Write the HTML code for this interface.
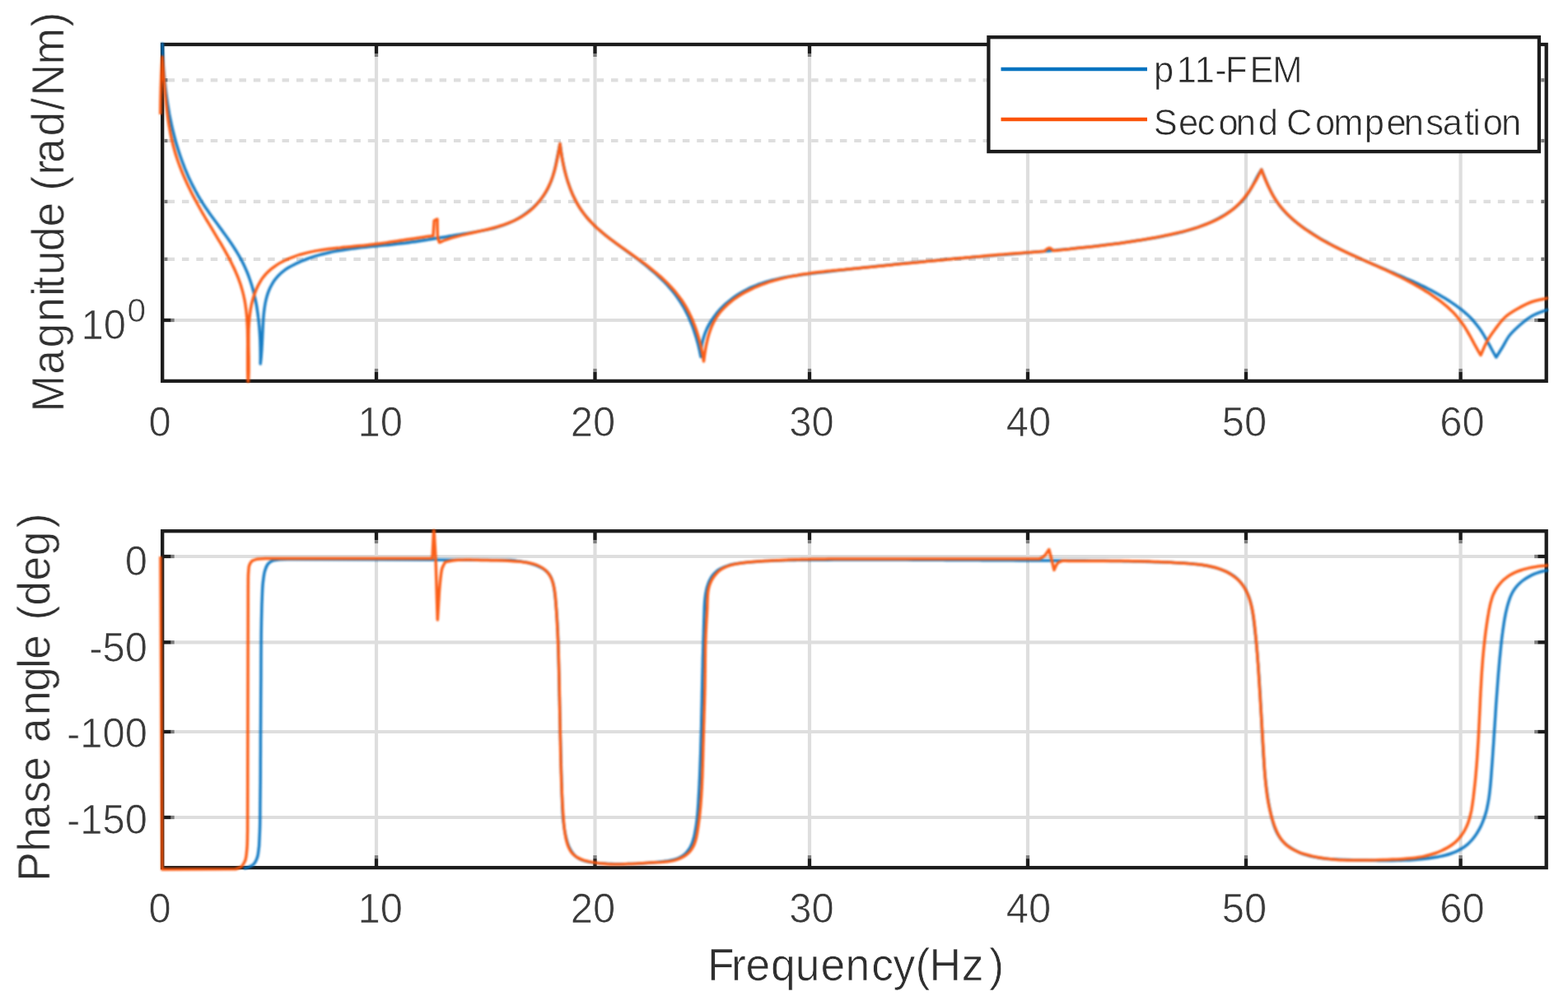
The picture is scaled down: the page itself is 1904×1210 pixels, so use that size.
<!DOCTYPE html>
<html lang="en">
<head>
<meta charset="utf-8">
<title>Frequency response: p11-FEM vs Second Compensation</title>
<style>
html,body{margin:0;padding:0;background:#fff;}
body{width:1904px;height:1210px;overflow:hidden;}
svg{display:block;}
text{font-family:"Liberation Sans","DejaVu Sans",sans-serif;stroke:#ffffff;stroke-width:0.7px;paint-order:fill stroke;}
</style>
</head>
<body>
<svg width="1904" height="1210" viewBox="0 0 1904 1210">
<rect x="0" y="0" width="1904" height="1210" fill="#ffffff"/>
<defs>
<clipPath id="ct"><rect x="190" y="51.8" width="1690" height="413.3"/></clipPath>
<clipPath id="cb"><rect x="190" y="643" width="1690" height="418"/></clipPath>
<filter id="soft" x="0" y="0" width="1904" height="1210" filterUnits="userSpaceOnUse" color-interpolation-filters="sRGB"><feGaussianBlur stdDeviation="0.9"/></filter>
<filter id="softt" x="0" y="0" width="1904" height="1210" filterUnits="userSpaceOnUse" color-interpolation-filters="sRGB"><feGaussianBlur stdDeviation="0.7"/></filter>
</defs>
<g stroke="#dedede" stroke-width="4.2" fill="none">
<line x1="457.0" y1="54.0" x2="457.0" y2="462.9"/>
<line x1="457.0" y1="645.2" x2="457.0" y2="1054.1"/>
<line x1="722.5" y1="54.0" x2="722.5" y2="462.9"/>
<line x1="722.5" y1="645.2" x2="722.5" y2="1054.1"/>
<line x1="983.0" y1="54.0" x2="983.0" y2="462.9"/>
<line x1="983.0" y1="645.2" x2="983.0" y2="1054.1"/>
<line x1="1248.0" y1="54.0" x2="1248.0" y2="462.9"/>
<line x1="1248.0" y1="645.2" x2="1248.0" y2="1054.1"/>
<line x1="1513.0" y1="54.0" x2="1513.0" y2="462.9"/>
<line x1="1513.0" y1="645.2" x2="1513.0" y2="1054.1"/>
<line x1="1773.6" y1="54.0" x2="1773.6" y2="462.9"/>
<line x1="1773.6" y1="645.2" x2="1773.6" y2="1054.1"/>
<line x1="197.2" y1="389" x2="1877.7" y2="389"/>
<line x1="203.6" y1="97.3" x2="1877.7" y2="97.3" stroke-dasharray="8.5 8.868"/>
<line x1="203.6" y1="171.0" x2="1877.7" y2="171.0" stroke-dasharray="8.5 8.868"/>
<line x1="203.6" y1="244.9" x2="1877.7" y2="244.9" stroke-dasharray="8.5 8.868"/>
<line x1="203.6" y1="314.8" x2="1877.7" y2="314.8" stroke-dasharray="8.5 8.868"/>
<line x1="197.2" y1="676.0" x2="1877.7" y2="676.0"/>
<line x1="197.2" y1="780.3" x2="1877.7" y2="780.3"/>
<line x1="197.2" y1="889.0" x2="1877.7" y2="889.0"/>
<line x1="197.2" y1="993.0" x2="1877.7" y2="993.0"/>
</g>
<g stroke="#1c1c1c" stroke-width="4.3" fill="none">
<rect x="197.2" y="54.0" width="1680.5" height="408.9"/>
<line x1="457.0" y1="462.9" x2="457.0" y2="451.9"/>
<line x1="457.0" y1="54.0" x2="457.0" y2="65.0"/>
<line x1="722.5" y1="462.9" x2="722.5" y2="451.9"/>
<line x1="722.5" y1="54.0" x2="722.5" y2="65.0"/>
<line x1="983.0" y1="462.9" x2="983.0" y2="451.9"/>
<line x1="983.0" y1="54.0" x2="983.0" y2="65.0"/>
<line x1="1248.0" y1="462.9" x2="1248.0" y2="451.9"/>
<line x1="1248.0" y1="54.0" x2="1248.0" y2="65.0"/>
<line x1="1513.0" y1="462.9" x2="1513.0" y2="451.9"/>
<line x1="1513.0" y1="54.0" x2="1513.0" y2="65.0"/>
<line x1="1773.6" y1="462.9" x2="1773.6" y2="451.9"/>
<line x1="1773.6" y1="54.0" x2="1773.6" y2="65.0"/>
<line x1="197.2" y1="389" x2="207.7" y2="389"/>
<line x1="1877.7" y1="389" x2="1867.2" y2="389"/>
</g>
<g stroke="#7d7d7d" stroke-width="4.3" fill="none">
<line x1="457.0" y1="451.9" x2="457.0" y2="447.9"/>
<line x1="457.0" y1="65.0" x2="457.0" y2="69.0"/>
<line x1="722.5" y1="451.9" x2="722.5" y2="447.9"/>
<line x1="722.5" y1="65.0" x2="722.5" y2="69.0"/>
<line x1="983.0" y1="451.9" x2="983.0" y2="447.9"/>
<line x1="983.0" y1="65.0" x2="983.0" y2="69.0"/>
<line x1="1248.0" y1="451.9" x2="1248.0" y2="447.9"/>
<line x1="1248.0" y1="65.0" x2="1248.0" y2="69.0"/>
<line x1="1513.0" y1="451.9" x2="1513.0" y2="447.9"/>
<line x1="1513.0" y1="65.0" x2="1513.0" y2="69.0"/>
<line x1="1773.6" y1="451.9" x2="1773.6" y2="447.9"/>
<line x1="1773.6" y1="65.0" x2="1773.6" y2="69.0"/>
<line x1="207.7" y1="389" x2="211.7" y2="389"/>
<line x1="1867.2" y1="389" x2="1863.2" y2="389"/>
<line x1="199.2" y1="97.3" x2="203.5" y2="97.3"/>
<line x1="1875.7" y1="97.3" x2="1871.4" y2="97.3"/>
<line x1="199.2" y1="171.0" x2="203.5" y2="171.0"/>
<line x1="1875.7" y1="171.0" x2="1871.4" y2="171.0"/>
<line x1="199.2" y1="244.9" x2="203.5" y2="244.9"/>
<line x1="1875.7" y1="244.9" x2="1871.4" y2="244.9"/>
<line x1="199.2" y1="314.8" x2="203.5" y2="314.8"/>
<line x1="1875.7" y1="314.8" x2="1871.4" y2="314.8"/>
</g>
<g stroke="#1c1c1c" stroke-width="4.3" fill="none">
<rect x="197.2" y="645.2" width="1680.5" height="408.89999999999986"/>
<line x1="457.0" y1="1054.1" x2="457.0" y2="1043.1"/>
<line x1="457.0" y1="645.2" x2="457.0" y2="656.2"/>
<line x1="722.5" y1="1054.1" x2="722.5" y2="1043.1"/>
<line x1="722.5" y1="645.2" x2="722.5" y2="656.2"/>
<line x1="983.0" y1="1054.1" x2="983.0" y2="1043.1"/>
<line x1="983.0" y1="645.2" x2="983.0" y2="656.2"/>
<line x1="1248.0" y1="1054.1" x2="1248.0" y2="1043.1"/>
<line x1="1248.0" y1="645.2" x2="1248.0" y2="656.2"/>
<line x1="1513.0" y1="1054.1" x2="1513.0" y2="1043.1"/>
<line x1="1513.0" y1="645.2" x2="1513.0" y2="656.2"/>
<line x1="1773.6" y1="1054.1" x2="1773.6" y2="1043.1"/>
<line x1="1773.6" y1="645.2" x2="1773.6" y2="656.2"/>
<line x1="197.2" y1="676.0" x2="207.7" y2="676.0"/>
<line x1="1877.7" y1="676.0" x2="1867.2" y2="676.0"/>
<line x1="197.2" y1="780.3" x2="207.7" y2="780.3"/>
<line x1="1877.7" y1="780.3" x2="1867.2" y2="780.3"/>
<line x1="197.2" y1="889.0" x2="207.7" y2="889.0"/>
<line x1="1877.7" y1="889.0" x2="1867.2" y2="889.0"/>
<line x1="197.2" y1="993.0" x2="207.7" y2="993.0"/>
<line x1="1877.7" y1="993.0" x2="1867.2" y2="993.0"/>
</g>
<g stroke="#7d7d7d" stroke-width="4.3" fill="none">
<line x1="457.0" y1="1043.1" x2="457.0" y2="1039.1"/>
<line x1="457.0" y1="656.2" x2="457.0" y2="660.2"/>
<line x1="722.5" y1="1043.1" x2="722.5" y2="1039.1"/>
<line x1="722.5" y1="656.2" x2="722.5" y2="660.2"/>
<line x1="983.0" y1="1043.1" x2="983.0" y2="1039.1"/>
<line x1="983.0" y1="656.2" x2="983.0" y2="660.2"/>
<line x1="1248.0" y1="1043.1" x2="1248.0" y2="1039.1"/>
<line x1="1248.0" y1="656.2" x2="1248.0" y2="660.2"/>
<line x1="1513.0" y1="1043.1" x2="1513.0" y2="1039.1"/>
<line x1="1513.0" y1="656.2" x2="1513.0" y2="660.2"/>
<line x1="1773.6" y1="1043.1" x2="1773.6" y2="1039.1"/>
<line x1="1773.6" y1="656.2" x2="1773.6" y2="660.2"/>
<line x1="207.7" y1="676.0" x2="211.7" y2="676.0"/>
<line x1="1867.2" y1="676.0" x2="1863.2" y2="676.0"/>
<line x1="207.7" y1="780.3" x2="211.7" y2="780.3"/>
<line x1="1867.2" y1="780.3" x2="1863.2" y2="780.3"/>
<line x1="207.7" y1="889.0" x2="211.7" y2="889.0"/>
<line x1="1867.2" y1="889.0" x2="1863.2" y2="889.0"/>
<line x1="207.7" y1="993.0" x2="211.7" y2="993.0"/>
<line x1="1867.2" y1="993.0" x2="1863.2" y2="993.0"/>
</g>
<g filter="url(#soft)" opacity="0.93">
<path d="M197.0 50.0C197.1 52.7 197.2 55.3 197.3 58.0C197.4 60.7 197.5 63.4 197.6 66.0C197.8 68.7 197.9 71.4 198.1 74.1C198.2 76.8 198.4 79.4 198.6 82.1C198.8 84.8 199.0 87.5 199.3 90.2C199.5 92.9 199.7 95.6 200.0 98.2C200.3 100.9 200.6 103.6 200.9 106.3C201.2 109.0 201.5 111.7 201.9 114.3C202.2 117.0 202.6 119.7 203.0 122.3C203.4 125.0 203.8 127.7 204.3 130.3C204.7 133.0 205.2 135.6 205.6 138.3C206.1 140.9 206.7 143.6 207.2 146.2C207.7 148.9 208.3 151.5 208.9 154.1C209.5 156.7 210.1 159.3 210.8 161.9C211.4 164.5 212.1 167.1 212.8 169.7C213.5 172.3 214.2 174.9 215.0 177.4C215.8 180.0 216.6 182.5 217.4 185.1C218.2 187.6 219.1 190.1 220.0 192.6C220.9 195.2 221.8 197.7 222.8 200.1C223.7 202.6 224.7 205.1 225.7 207.6C226.8 210.0 227.8 212.5 228.9 214.9C230.0 217.3 231.2 219.7 232.3 222.1C233.5 224.5 234.7 226.9 236.0 229.2C237.2 231.6 238.5 233.9 239.8 236.3C241.1 238.6 242.5 240.9 243.9 243.2C245.3 245.4 246.7 247.7 248.2 249.9C249.7 252.2 251.2 254.4 252.7 256.6C254.3 258.9 255.8 261.1 257.4 263.3C259.0 265.5 260.6 267.6 262.2 269.8C263.8 272.0 265.4 274.2 267.0 276.4C268.6 278.5 270.2 280.7 271.7 282.9C273.3 285.1 274.9 287.3 276.5 289.5C278.0 291.7 279.5 293.9 281.0 296.1C282.5 298.3 284.0 300.6 285.4 302.8C286.9 305.1 288.3 307.4 289.6 309.7C290.9 312.0 292.2 314.3 293.5 316.6C294.7 319.0 295.9 321.3 297.0 323.7C298.1 326.1 299.2 328.6 300.2 331.0C301.2 333.5 302.1 336.0 303.0 338.5C303.9 341.0 304.7 343.5 305.5 346.0C306.3 348.6 307.0 351.1 307.7 353.7C308.3 356.3 309.0 358.9 309.5 361.5C310.1 364.1 310.7 366.8 311.2 369.4C311.7 372.1 312.1 374.7 312.5 377.4C312.9 380.0 313.3 382.7 313.6 385.4C314.0 388.1 314.3 390.8 314.5 393.5C314.8 396.2 315.0 398.9 315.2 401.6C315.4 404.3 315.6 407.0 315.7 409.7C315.8 412.4 316.0 415.1 316.0 417.8C316.1 420.5 316.2 423.2 316.2 425.9C316.3 428.6 316.3 431.3 316.3 434.0C316.3 436.7 316.3 439.3 316.2 442.0C316.5 439.4 316.8 436.8 317.1 434.2C317.3 431.6 317.5 429.0 317.7 426.3C317.9 423.7 318.0 421.0 318.2 418.4C318.3 415.7 318.4 413.0 318.6 410.3C318.7 407.5 318.8 404.8 319.0 402.1C319.1 399.3 319.2 396.6 319.4 393.8C319.5 391.0 319.7 388.2 319.9 385.5C320.2 382.7 320.4 379.9 320.8 377.1C321.1 374.4 321.5 371.7 322.0 369.0C322.5 366.3 323.1 363.6 323.8 361.0C324.5 358.5 325.3 355.9 326.3 353.5C327.3 351.0 328.4 348.6 329.7 346.4C330.9 344.1 332.3 341.9 333.8 339.8C335.4 337.8 337.1 335.8 338.9 334.0C340.7 332.2 342.7 330.5 344.8 328.9C346.8 327.3 349.1 325.9 351.3 324.5C353.6 323.2 356.0 321.9 358.4 320.8C360.7 319.6 363.2 318.5 365.6 317.4C368.1 316.4 370.6 315.4 373.1 314.5C375.6 313.6 378.1 312.7 380.6 311.9C383.2 311.1 385.7 310.3 388.3 309.6C390.9 308.9 393.4 308.3 396.0 307.7C398.7 307.0 401.3 306.5 403.9 305.9C406.5 305.4 409.2 304.9 411.8 304.5C414.5 304.0 417.1 303.6 419.8 303.2C422.5 302.8 425.2 302.4 427.9 302.0C430.5 301.7 433.2 301.4 435.9 301.0C438.6 300.7 441.3 300.4 444.0 300.2C446.7 299.9 449.4 299.6 452.1 299.3C454.8 299.1 457.6 298.8 460.3 298.6C463.0 298.3 465.7 298.0 468.4 297.8C471.1 297.5 473.7 297.3 476.4 297.0C479.1 296.7 481.8 296.4 484.5 296.1C487.1 295.8 489.8 295.5 492.5 295.2C495.1 294.8 497.8 294.5 500.4 294.1C503.0 293.8 505.7 293.4 508.3 293.0C510.9 292.6 513.5 292.2 516.2 291.8C518.8 291.4 521.4 290.9 524.0 290.5C526.6 290.1 529.3 289.6 531.9 289.2C534.5 288.8 537.1 288.3 539.7 287.9C542.4 287.5 545.0 287.0 547.6 286.6C550.3 286.1 552.9 285.7 555.6 285.3C558.2 284.9 560.9 284.5 563.6 284.0C566.3 283.6 568.9 283.2 571.6 282.8C574.3 282.3 577.0 281.9 579.6 281.4C582.3 280.9 585.0 280.4 587.6 279.9C590.3 279.3 592.9 278.8 595.6 278.1C598.2 277.5 600.8 276.8 603.4 276.0C606.0 275.3 608.5 274.5 611.0 273.6C613.6 272.7 616.1 271.7 618.5 270.6C621.0 269.6 623.4 268.4 625.8 267.2C628.2 265.9 630.5 264.6 632.8 263.2C635.1 261.8 637.3 260.3 639.4 258.7C641.6 257.1 643.7 255.4 645.7 253.7C647.7 251.9 649.6 250.1 651.4 248.2C653.3 246.3 655.0 244.3 656.7 242.2C658.3 240.2 659.9 238.0 661.3 235.8C662.8 233.6 664.1 231.3 665.3 229.0C666.5 226.6 667.6 224.1 668.6 221.7C669.6 219.2 670.5 216.6 671.3 214.0C672.1 211.4 672.8 208.8 673.5 206.2C674.2 203.5 674.8 200.8 675.3 198.2C675.9 195.5 676.4 192.8 676.9 190.1C677.5 187.5 677.9 184.9 678.5 182.2C679.0 179.6 679.5 177.1 680.0 174.5C680.4 177.2 680.7 179.8 681.1 182.5C681.4 185.1 681.9 187.8 682.3 190.5C682.8 193.1 683.3 195.8 683.8 198.5C684.4 201.2 684.9 203.8 685.6 206.5C686.2 209.1 686.9 211.8 687.6 214.4C688.4 217.0 689.2 219.6 690.0 222.2C690.9 224.7 691.8 227.3 692.7 229.8C693.7 232.3 694.7 234.8 695.8 237.2C696.9 239.6 698.1 242.0 699.3 244.4C700.6 246.7 701.9 249.0 703.3 251.3C704.6 253.5 706.1 255.7 707.6 257.8C709.2 259.9 710.8 262.0 712.5 264.0C714.2 266.0 715.9 268.0 717.7 269.9C719.5 271.8 721.4 273.6 723.3 275.4C725.3 277.3 727.3 279.0 729.3 280.8C731.3 282.5 733.4 284.2 735.4 285.9C737.5 287.6 739.7 289.3 741.8 290.9C744.0 292.6 746.1 294.2 748.3 295.8C750.5 297.4 752.7 299.0 754.9 300.6C757.1 302.3 759.4 303.8 761.6 305.5C763.8 307.1 766.0 308.7 768.2 310.3C770.4 311.9 772.6 313.5 774.8 315.2C776.9 316.8 779.1 318.5 781.2 320.2C783.3 321.8 785.5 323.5 787.5 325.3C789.6 327.0 791.7 328.7 793.7 330.5C795.7 332.2 797.7 334.0 799.7 335.9C801.6 337.7 803.6 339.5 805.5 341.4C807.3 343.3 809.2 345.2 811.0 347.2C812.7 349.1 814.5 351.1 816.2 353.2C817.8 355.2 819.5 357.3 821.1 359.4C822.6 361.5 824.1 363.7 825.6 365.9C827.1 368.1 828.4 370.4 829.8 372.7C831.1 375.0 832.3 377.3 833.5 379.7C834.8 382.1 835.9 384.5 837.0 387.0C838.1 389.5 839.1 392.0 840.1 394.5C841.0 397.0 842.0 399.5 842.8 402.1C843.7 404.7 844.5 407.3 845.3 409.9C846.1 412.5 846.8 415.1 847.5 417.7C848.1 420.3 848.8 423.0 849.4 425.6C849.9 428.2 850.5 430.9 851.0 433.5C851.1 430.7 851.1 427.8 851.4 425.0C851.6 422.2 852.1 419.5 852.6 416.8C853.2 414.1 853.9 411.5 854.7 408.9C855.5 406.4 856.4 403.9 857.5 401.4C858.5 399.0 859.7 396.6 861.0 394.2C862.3 391.9 863.7 389.6 865.2 387.4C866.6 385.2 868.2 383.1 869.9 381.0C871.6 379.0 873.3 377.0 875.1 375.0C877.0 373.1 878.9 371.2 880.9 369.4C882.9 367.6 884.9 365.9 887.0 364.3C889.1 362.6 891.3 361.0 893.5 359.5C895.7 358.0 898.0 356.6 900.3 355.3C902.6 353.9 904.9 352.7 907.3 351.5C909.7 350.3 912.1 349.2 914.5 348.2C916.9 347.1 919.4 346.2 921.9 345.2C924.4 344.3 926.9 343.5 929.4 342.7C932.0 341.9 934.5 341.2 937.1 340.5C939.7 339.9 942.3 339.2 944.9 338.7C947.5 338.1 950.2 337.5 952.8 337.0C955.4 336.5 958.1 336.1 960.8 335.6C963.4 335.2 966.1 334.8 968.8 334.4C971.5 334.0 974.2 333.6 976.9 333.3C979.6 332.9 982.3 332.6 985.0 332.3C987.7 332.0 990.4 331.7 993.1 331.3C995.8 331.0 998.5 330.7 1001.2 330.4C1003.9 330.1 1006.6 329.8 1009.3 329.5C1012.0 329.2 1014.7 328.9 1017.4 328.6C1020.1 328.3 1022.8 328.0 1025.5 327.7C1028.2 327.4 1030.9 327.1 1033.6 326.8C1036.3 326.5 1039.0 326.2 1041.6 325.9C1044.3 325.6 1047.0 325.3 1049.7 325.0C1052.4 324.7 1055.1 324.4 1057.7 324.2C1060.4 323.9 1063.1 323.6 1065.8 323.3C1068.5 323.0 1071.1 322.8 1073.8 322.5C1076.5 322.2 1079.2 321.9 1081.9 321.7C1084.5 321.4 1087.2 321.1 1089.9 320.8C1092.6 320.6 1095.2 320.3 1097.9 320.0C1100.6 319.8 1103.3 319.5 1105.9 319.2C1108.6 319.0 1111.3 318.7 1114.0 318.5C1116.6 318.2 1119.3 318.0 1122.0 317.7C1124.6 317.5 1127.3 317.2 1130.0 317.0C1132.7 316.7 1135.3 316.5 1138.0 316.2C1140.7 316.0 1143.3 315.7 1146.0 315.5C1148.7 315.2 1151.4 315.0 1154.0 314.8C1156.7 314.5 1159.4 314.3 1162.1 314.1C1164.7 313.8 1167.4 313.6 1170.1 313.4C1172.8 313.1 1175.4 312.9 1178.1 312.7C1180.8 312.5 1183.5 312.2 1186.1 312.0C1188.8 311.8 1191.5 311.6 1194.2 311.4C1196.8 311.1 1199.5 310.9 1202.2 310.7C1204.9 310.5 1207.5 310.3 1210.2 310.1C1212.9 309.8 1215.6 309.6 1218.3 309.4C1220.9 309.2 1223.6 309.0 1226.3 308.8C1229.0 308.6 1231.7 308.3 1234.3 308.1C1237.0 307.9 1239.7 307.7 1242.4 307.5C1245.1 307.2 1247.8 307.0 1250.4 306.8C1253.1 306.6 1255.8 306.4 1258.5 306.1C1261.2 305.9 1263.8 305.7 1266.5 305.4C1269.2 305.2 1271.9 305.0 1274.6 304.7C1277.3 304.5 1279.9 304.2 1282.6 304.0C1285.3 303.7 1288.0 303.5 1290.7 303.2C1293.4 303.0 1296.0 302.7 1298.7 302.5C1301.4 302.2 1304.1 301.9 1306.8 301.6C1309.4 301.4 1312.1 301.1 1314.8 300.8C1317.5 300.5 1320.2 300.2 1322.9 299.9C1325.5 299.6 1328.2 299.3 1330.9 299.0C1333.6 298.7 1336.3 298.4 1338.9 298.1C1341.6 297.7 1344.3 297.4 1347.0 297.1C1349.7 296.7 1352.3 296.4 1355.0 296.0C1357.7 295.7 1360.4 295.3 1363.1 294.9C1365.7 294.6 1368.4 294.2 1371.1 293.8C1373.8 293.4 1376.4 293.0 1379.1 292.6C1381.8 292.2 1384.5 291.8 1387.1 291.4C1389.8 290.9 1392.5 290.5 1395.2 290.0C1397.8 289.6 1400.5 289.1 1403.2 288.7C1405.8 288.2 1408.5 287.7 1411.2 287.2C1413.8 286.7 1416.5 286.2 1419.1 285.6C1421.8 285.1 1424.4 284.5 1427.0 283.9C1429.7 283.3 1432.3 282.6 1434.9 282.0C1437.5 281.3 1440.1 280.6 1442.6 279.9C1445.2 279.1 1447.8 278.3 1450.3 277.5C1452.8 276.7 1455.4 275.8 1457.9 274.9C1460.4 274.0 1462.8 273.0 1465.3 272.0C1467.7 271.0 1470.2 269.9 1472.6 268.8C1475.0 267.6 1477.4 266.5 1479.7 265.2C1482.1 263.9 1484.4 262.6 1486.7 261.3C1489.0 259.9 1491.2 258.4 1493.4 256.9C1495.6 255.4 1497.8 253.8 1499.8 252.1C1501.9 250.4 1503.9 248.6 1505.8 246.7C1507.7 244.9 1509.5 242.9 1511.2 240.8C1512.9 238.8 1514.4 236.6 1515.9 234.3C1517.4 232.0 1518.7 229.7 1520.0 227.3C1521.3 224.9 1522.5 222.5 1523.8 220.0C1525.1 217.6 1526.3 215.2 1527.6 212.9C1528.9 210.5 1530.4 208.3 1531.8 206.0C1532.8 208.5 1533.7 211.0 1534.8 213.5C1535.8 216.0 1536.8 218.5 1537.9 220.9C1538.9 223.4 1540.0 225.9 1541.2 228.3C1542.3 230.7 1543.5 233.1 1544.8 235.5C1546.1 237.9 1547.4 240.2 1548.8 242.4C1550.2 244.7 1551.7 246.9 1553.2 249.0C1554.8 251.2 1556.5 253.2 1558.2 255.2C1560.0 257.2 1561.8 259.1 1563.7 261.0C1565.6 262.8 1567.6 264.6 1569.6 266.4C1571.6 268.1 1573.7 269.8 1575.8 271.5C1578.0 273.1 1580.1 274.7 1582.3 276.3C1584.5 277.8 1586.8 279.4 1589.0 280.8C1591.2 282.3 1593.5 283.8 1595.8 285.2C1598.0 286.6 1600.3 288.0 1602.6 289.4C1604.9 290.7 1607.2 292.1 1609.6 293.4C1611.9 294.7 1614.3 296.0 1616.6 297.2C1619.0 298.5 1621.3 299.7 1623.7 300.9C1626.1 302.1 1628.5 303.3 1630.9 304.5C1633.3 305.7 1635.7 306.8 1638.1 308.0C1640.5 309.1 1643.0 310.2 1645.4 311.3C1647.8 312.5 1650.3 313.6 1652.7 314.6C1655.2 315.7 1657.6 316.8 1660.1 317.9C1662.6 319.0 1665.0 320.0 1667.5 321.1C1670.0 322.1 1672.5 323.2 1675.0 324.3C1677.4 325.3 1679.9 326.4 1682.4 327.4C1684.9 328.5 1687.4 329.5 1689.9 330.6C1692.4 331.6 1694.8 332.7 1697.3 333.8C1699.8 334.8 1702.3 335.9 1704.8 337.0C1707.2 338.1 1709.7 339.2 1712.2 340.3C1714.6 341.4 1717.1 342.5 1719.5 343.7C1722.0 344.8 1724.4 346.0 1726.8 347.2C1729.2 348.3 1731.6 349.5 1734.0 350.8C1736.4 352.0 1738.7 353.2 1741.1 354.5C1743.4 355.8 1745.8 357.1 1748.1 358.5C1750.4 359.8 1752.7 361.2 1755.0 362.6C1757.2 364.0 1759.5 365.4 1761.7 366.9C1763.9 368.4 1766.1 369.9 1768.2 371.4C1770.4 373.0 1772.5 374.6 1774.6 376.2C1776.7 377.9 1778.7 379.6 1780.7 381.3C1782.7 383.1 1784.6 384.9 1786.4 386.8C1788.3 388.8 1790.0 390.7 1791.7 392.8C1793.4 394.8 1795.0 397.0 1796.5 399.1C1798.1 401.3 1799.6 403.6 1801.0 405.9C1802.4 408.1 1803.7 410.5 1805.1 412.8C1806.4 415.2 1807.7 417.6 1809.0 419.9C1810.3 422.3 1811.5 424.7 1812.8 427.0C1814.1 429.4 1815.4 431.7 1816.8 434.0C1819.2 430.2 1821.6 426.4 1824.0 422.5C1827.1 417.5 1829.4 412.1 1833.0 407.5C1836.6 402.9 1841.1 398.9 1845.5 395.0C1850.2 390.9 1855.1 386.9 1860.5 383.8C1866.6 380.2 1873.5 378.4 1880.0 375.8" fill="none" stroke="#0673c0" stroke-width="3.5" stroke-linejoin="round" stroke-linecap="butt" clip-path="url(#ct)" opacity="1.0"/>
<path d="M194.7 139.0C194.8 132.0 194.8 125.0 195.0 118.0C195.2 110.3 195.4 102.7 195.7 95.0C196.0 86.3 196.6 77.7 197.0 69.0C197.2 71.6 197.5 74.2 197.7 76.9C197.9 79.5 198.1 82.2 198.3 84.8C198.5 87.5 198.7 90.1 198.9 92.8C199.1 95.5 199.3 98.2 199.6 100.8C199.8 103.5 200.0 106.2 200.2 108.9C200.4 111.6 200.7 114.3 200.9 117.0C201.2 119.7 201.4 122.4 201.7 125.1C202.0 127.8 202.3 130.5 202.6 133.2C202.9 135.8 203.2 138.5 203.6 141.2C203.9 143.9 204.3 146.6 204.7 149.2C205.1 151.9 205.6 154.6 206.1 157.2C206.5 159.9 207.0 162.5 207.6 165.1C208.1 167.8 208.7 170.4 209.4 173.0C210.0 175.6 210.6 178.2 211.4 180.7C212.1 183.3 212.8 185.9 213.6 188.4C214.4 190.9 215.3 193.5 216.1 196.0C217.0 198.5 217.9 201.0 218.9 203.5C219.8 206.0 220.8 208.4 221.8 210.9C222.8 213.4 223.9 215.8 225.0 218.2C226.1 220.7 227.2 223.1 228.3 225.5C229.5 227.9 230.6 230.3 231.8 232.7C233.0 235.1 234.2 237.5 235.5 239.9C236.7 242.2 238.0 244.6 239.3 247.0C240.6 249.3 241.9 251.7 243.2 254.0C244.5 256.4 245.8 258.7 247.2 261.0C248.5 263.3 249.9 265.7 251.3 268.0C252.7 270.3 254.1 272.6 255.5 274.9C256.9 277.2 258.3 279.5 259.7 281.9C261.0 284.2 262.5 286.5 263.8 288.8C265.2 291.1 266.6 293.4 268.0 295.7C269.3 298.0 270.7 300.3 272.0 302.7C273.3 305.0 274.7 307.3 275.9 309.7C277.2 312.0 278.5 314.4 279.7 316.7C280.9 319.1 282.1 321.5 283.2 323.9C284.4 326.3 285.5 328.7 286.5 331.1C287.5 333.5 288.6 336.0 289.5 338.4C290.4 340.9 291.3 343.4 292.2 345.9C293.0 348.4 293.7 350.9 294.4 353.4C295.1 356.0 295.8 358.6 296.3 361.2C296.9 363.8 297.4 366.4 297.8 369.0C298.2 371.7 298.6 374.4 298.9 377.0C299.2 379.7 299.5 382.4 299.7 385.1C299.9 387.8 300.1 390.5 300.2 393.2C300.4 396.0 300.5 398.7 300.6 401.4C300.6 404.2 300.7 406.9 300.7 409.7C300.8 412.4 300.8 415.2 300.8 417.9C300.8 420.6 300.8 423.4 300.7 426.1C300.7 428.8 300.7 431.5 300.7 434.3C300.7 437.0 300.7 439.7 300.7 442.4C300.7 445.0 300.7 447.7 300.7 450.4C300.8 453.0 300.8 455.6 300.9 458.2C301.0 460.8 301.2 463.4 301.3 466.0C301.5 463.4 301.7 460.7 301.8 458.1C302.0 455.4 302.0 452.8 302.1 450.1C302.1 447.4 302.1 444.7 302.1 442.0C302.1 439.3 302.1 436.5 302.1 433.8C302.0 431.1 302.0 428.3 301.9 425.6C301.9 422.8 301.8 420.1 301.8 417.3C301.8 414.6 301.8 411.8 301.8 409.1C301.8 406.3 301.9 403.5 301.9 400.8C302.0 398.0 302.2 395.3 302.4 392.5C302.5 389.8 302.8 387.1 303.1 384.4C303.4 381.6 303.8 378.9 304.2 376.2C304.7 373.5 305.2 370.9 305.8 368.2C306.5 365.5 307.2 362.9 308.0 360.3C308.8 357.7 309.7 355.2 310.8 352.7C311.8 350.2 312.9 347.7 314.2 345.4C315.5 343.1 316.8 340.8 318.3 338.6C319.8 336.5 321.5 334.4 323.2 332.5C325.0 330.6 326.9 328.8 328.9 327.1C330.9 325.4 333.1 323.8 335.3 322.4C337.5 320.9 339.8 319.5 342.2 318.3C344.5 317.0 347.0 315.8 349.5 314.8C351.9 313.7 354.5 312.7 357.0 311.8C359.6 310.8 362.1 310.0 364.7 309.2C367.3 308.5 369.9 307.8 372.6 307.1C375.2 306.5 377.9 305.9 380.5 305.4C383.2 304.8 385.9 304.4 388.6 303.9C391.3 303.5 394.0 303.1 396.7 302.7C399.4 302.4 402.1 302.0 404.9 301.7C407.6 301.4 410.3 301.1 413.1 300.9C415.8 300.6 418.5 300.3 421.3 300.1C424.0 299.8 426.7 299.6 429.5 299.3C432.2 299.1 434.9 298.9 437.6 298.6C440.3 298.3 443.0 298.1 445.8 297.8C448.4 297.5 451.1 297.1 453.8 296.8C456.5 296.5 459.2 296.1 461.8 295.8C464.5 295.4 467.1 295.0 469.8 294.7C472.5 294.3 475.1 293.9 477.8 293.5C480.4 293.1 483.1 292.7 485.7 292.3C488.4 291.9 491.0 291.5 493.7 291.1C496.4 290.7 499.0 290.3 501.7 289.9C504.4 289.5 507.1 289.1 509.7 288.7C512.4 288.3 515.1 288.0 517.8 287.6C520.6 287.3 523.3 286.9 526.0 286.6L527.2 268.0L531.0 266.2C531.2 273.8 531.0 286.2 531.7 289.0C532.2 290.9 532.9 292.7 533.5 294.5C535.9 293.6 538.2 292.5 540.6 291.7C543.0 290.8 545.5 290.0 548.0 289.2C550.5 288.4 553.1 287.7 555.6 287.1C558.2 286.4 560.9 285.7 563.5 285.1C566.1 284.5 568.8 283.9 571.5 283.3C574.1 282.7 576.8 282.1 579.5 281.5C582.2 280.9 584.9 280.3 587.6 279.6C590.3 279.0 592.9 278.4 595.6 277.7C598.3 277.0 600.9 276.3 603.5 275.6C606.1 274.8 608.7 274.0 611.3 273.2C613.8 272.3 616.3 271.4 618.8 270.4C621.3 269.4 623.7 268.4 626.1 267.2C628.5 266.1 630.8 264.8 633.0 263.5C635.3 262.2 637.5 260.7 639.6 259.2C641.7 257.6 643.7 256.0 645.7 254.2C647.6 252.5 649.5 250.6 651.3 248.6C653.1 246.7 654.8 244.6 656.4 242.5C658.0 240.4 659.5 238.1 661.0 235.9C662.4 233.6 663.7 231.2 665.0 228.8C666.3 226.4 667.4 224.0 668.5 221.5C669.5 219.0 670.5 216.4 671.4 213.8C672.2 211.3 673.0 208.6 673.7 206.0C674.4 203.4 675.0 200.7 675.6 198.1C676.2 195.4 676.7 192.8 677.2 190.1C677.7 187.5 678.2 184.9 678.7 182.2C679.1 179.7 679.6 177.1 680.0 174.5C680.3 177.2 680.7 179.8 681.0 182.5C681.4 185.1 681.8 187.8 682.3 190.5C682.7 193.1 683.2 195.8 683.8 198.5C684.3 201.1 684.9 203.8 685.5 206.5C686.2 209.1 686.9 211.7 687.6 214.4C688.3 217.0 689.1 219.6 690.0 222.2C690.8 224.7 691.7 227.3 692.7 229.8C693.7 232.3 694.7 234.8 695.8 237.2C696.9 239.6 698.1 242.0 699.3 244.4C700.5 246.7 701.8 249.0 703.2 251.2C704.6 253.5 706.1 255.6 707.6 257.8C709.1 259.9 710.7 261.9 712.4 264.0C714.1 266.0 715.9 267.9 717.7 269.8C719.5 271.7 721.3 273.6 723.3 275.4C725.2 277.2 727.2 279.0 729.2 280.7C731.2 282.4 733.3 284.1 735.3 285.8C737.4 287.5 739.6 289.1 741.7 290.8C743.9 292.4 746.1 294.0 748.3 295.6C750.5 297.2 752.7 298.8 754.9 300.4C757.1 302.0 759.4 303.5 761.6 305.1C763.8 306.7 766.1 308.2 768.3 309.8C770.5 311.4 772.7 313.0 774.9 314.6C777.1 316.2 779.3 317.8 781.5 319.4C783.7 321.1 785.8 322.7 788.0 324.4C790.1 326.1 792.2 327.7 794.3 329.5C796.3 331.2 798.4 332.9 800.4 334.7C802.4 336.4 804.4 338.2 806.3 340.0C808.3 341.9 810.1 343.7 812.0 345.6C813.8 347.5 815.6 349.5 817.4 351.4C819.1 353.4 820.8 355.4 822.4 357.5C824.1 359.6 825.6 361.7 827.2 363.8C828.7 366.0 830.1 368.2 831.5 370.5C832.9 372.7 834.2 375.1 835.4 377.4C836.7 379.8 837.8 382.2 839.0 384.6C840.1 387.0 841.1 389.5 842.1 392.0C843.1 394.5 844.1 397.1 845.0 399.6C845.9 402.2 846.7 404.8 847.5 407.4C848.3 410.0 849.0 412.6 849.7 415.2C850.3 417.8 851.0 420.5 851.6 423.1C852.1 425.8 852.7 428.4 853.2 431.1C853.6 433.7 854.1 436.4 854.5 439.0C854.9 436.3 855.2 433.6 855.6 430.9C856.0 428.2 856.4 425.5 856.9 422.7C857.4 420.0 857.9 417.3 858.6 414.6C859.2 411.9 859.9 409.2 860.7 406.6C861.5 404.0 862.3 401.4 863.3 398.8C864.3 396.3 865.4 393.8 866.6 391.4C867.8 389.1 869.2 386.8 870.6 384.6C872.1 382.4 873.7 380.2 875.4 378.2C877.1 376.2 878.9 374.2 880.8 372.4C882.7 370.5 884.7 368.8 886.8 367.1C888.8 365.4 891.0 363.8 893.2 362.2C895.4 360.7 897.7 359.2 900.0 357.8C902.3 356.4 904.6 355.1 907.0 353.9C909.4 352.6 911.8 351.4 914.2 350.3C916.7 349.2 919.1 348.1 921.6 347.1C924.1 346.1 926.6 345.2 929.1 344.3C931.6 343.4 934.2 342.5 936.7 341.7C939.3 341.0 941.9 340.2 944.5 339.5C947.0 338.8 949.7 338.2 952.3 337.6C954.9 337.0 957.5 336.4 960.2 335.9C962.8 335.3 965.5 334.8 968.2 334.4C970.8 333.9 973.5 333.4 976.2 333.0C978.9 332.6 981.6 332.2 984.3 331.9C987.0 331.5 989.7 331.2 992.5 330.8C995.2 330.5 997.9 330.2 1000.6 329.9C1003.4 329.6 1006.1 329.3 1008.8 329.1C1011.5 328.8 1014.3 328.5 1017.0 328.3C1019.7 328.0 1022.5 327.7 1025.2 327.5C1027.9 327.2 1030.6 327.0 1033.3 326.7C1036.1 326.4 1038.8 326.2 1041.5 325.9C1044.2 325.6 1046.9 325.4 1049.6 325.1C1052.3 324.8 1055.0 324.6 1057.8 324.3C1060.5 324.0 1063.2 323.8 1065.9 323.5C1068.6 323.2 1071.3 323.0 1074.0 322.7C1076.7 322.4 1079.4 322.2 1082.1 321.9C1084.7 321.6 1087.4 321.3 1090.1 321.1C1092.8 320.8 1095.5 320.5 1098.2 320.3C1100.9 320.0 1103.6 319.7 1106.3 319.5C1108.9 319.2 1111.6 318.9 1114.3 318.7C1117.0 318.4 1119.7 318.1 1122.4 317.9C1125.1 317.6 1127.7 317.3 1130.4 317.1C1133.1 316.8 1135.8 316.6 1138.5 316.3C1141.2 316.0 1143.8 315.8 1146.5 315.5C1149.2 315.3 1151.9 315.0 1154.6 314.7C1157.3 314.5 1159.9 314.2 1162.6 314.0C1165.3 313.7 1168.0 313.5 1170.7 313.2C1173.4 313.0 1176.0 312.7 1178.7 312.5C1181.4 312.2 1184.1 312.0 1186.8 311.8C1189.5 311.5 1192.2 311.3 1194.9 311.0C1197.6 310.8 1200.3 310.6 1202.9 310.3C1205.6 310.1 1208.3 309.9 1211.0 309.6C1213.7 309.4 1216.4 309.2 1219.1 309.0C1221.8 308.7 1224.5 308.5 1227.2 308.3C1229.9 308.1 1232.7 307.9 1235.4 307.7C1238.1 307.5 1240.8 307.3 1243.5 307.1C1246.2 306.8 1248.9 306.6 1251.6 306.4C1254.4 306.2 1257.1 306.1 1259.8 305.9C1262.5 305.7 1265.3 305.5 1268.0 305.3C1270.2 303.9 1272.0 300.8 1274.5 301.2C1276.4 301.5 1277.5 303.5 1279.0 304.6C1281.7 304.3 1284.5 304.0 1287.2 303.7C1289.9 303.4 1292.7 303.2 1295.4 302.9C1298.1 302.6 1300.8 302.3 1303.5 302.0C1306.3 301.7 1309.0 301.4 1311.7 301.1C1314.4 300.9 1317.1 300.6 1319.8 300.3C1322.5 300.0 1325.2 299.7 1327.9 299.4C1330.6 299.1 1333.3 298.8 1336.0 298.4C1338.7 298.1 1341.4 297.8 1344.1 297.5C1346.8 297.1 1349.5 296.8 1352.2 296.5C1354.9 296.1 1357.6 295.8 1360.3 295.4C1363.0 295.0 1365.7 294.6 1368.3 294.3C1371.0 293.9 1373.7 293.5 1376.4 293.1C1379.1 292.6 1381.8 292.2 1384.5 291.8C1387.2 291.3 1389.8 290.9 1392.5 290.4C1395.2 290.0 1397.9 289.5 1400.6 289.0C1403.3 288.5 1406.0 288.0 1408.6 287.4C1411.3 286.9 1414.0 286.3 1416.7 285.8C1419.4 285.2 1422.1 284.6 1424.8 284.0C1427.5 283.4 1430.2 282.8 1432.9 282.1C1435.6 281.5 1438.3 280.8 1440.9 280.1C1443.6 279.3 1446.3 278.6 1448.9 277.8C1451.6 277.0 1454.2 276.2 1456.8 275.3C1459.4 274.4 1462.0 273.5 1464.6 272.5C1467.1 271.5 1469.6 270.5 1472.1 269.4C1474.5 268.3 1477.0 267.1 1479.3 265.9C1481.7 264.7 1484.0 263.3 1486.3 261.9C1488.6 260.6 1490.8 259.1 1492.9 257.5C1495.1 256.0 1497.2 254.3 1499.2 252.6C1501.2 250.8 1503.1 249.0 1505.0 247.1C1506.9 245.2 1508.6 243.1 1510.3 241.1C1512.1 239.0 1513.7 236.8 1515.3 234.6C1516.9 232.4 1518.4 230.1 1519.9 227.8C1521.4 225.4 1522.8 223.1 1524.2 220.7C1525.5 218.3 1526.8 215.8 1528.1 213.4C1529.4 210.9 1530.5 208.5 1531.8 206.0C1532.7 208.5 1533.6 211.0 1534.6 213.5C1535.6 216.0 1536.6 218.5 1537.7 221.0C1538.7 223.4 1539.8 225.9 1541.0 228.3C1542.2 230.7 1543.4 233.1 1544.6 235.4C1545.9 237.8 1547.3 240.1 1548.7 242.3C1550.2 244.5 1551.7 246.7 1553.3 248.8C1554.9 250.9 1556.6 252.9 1558.4 254.9C1560.1 256.9 1562.0 258.9 1563.9 260.7C1565.8 262.6 1567.7 264.4 1569.7 266.2C1571.7 268.0 1573.7 269.7 1575.8 271.4C1577.9 273.1 1580.0 274.7 1582.1 276.3C1584.2 277.9 1586.4 279.4 1588.6 280.9C1590.8 282.4 1593.0 283.8 1595.3 285.3C1597.5 286.7 1599.8 288.1 1602.1 289.4C1604.4 290.8 1606.7 292.1 1609.0 293.4C1611.3 294.7 1613.7 296.0 1616.1 297.2C1618.4 298.4 1620.8 299.7 1623.2 300.9C1625.6 302.1 1628.0 303.2 1630.4 304.4C1632.9 305.6 1635.3 306.7 1637.7 307.8C1640.2 309.0 1642.6 310.1 1645.1 311.2C1647.5 312.3 1650.0 313.4 1652.4 314.5C1654.9 315.6 1657.4 316.7 1659.8 317.8C1662.3 318.9 1664.7 320.0 1667.2 321.1C1669.7 322.2 1672.1 323.3 1674.6 324.4C1677.0 325.5 1679.5 326.6 1681.9 327.7C1684.3 328.9 1686.8 330.0 1689.2 331.2C1691.6 332.3 1694.0 333.5 1696.4 334.6C1698.8 335.8 1701.2 337.0 1703.6 338.2C1706.0 339.4 1708.4 340.7 1710.7 341.9C1713.1 343.2 1715.4 344.5 1717.7 345.8C1720.1 347.1 1722.4 348.4 1724.7 349.7C1727.0 351.1 1729.2 352.5 1731.5 353.9C1733.7 355.3 1736.0 356.7 1738.2 358.2C1740.4 359.7 1742.6 361.2 1744.7 362.8C1746.9 364.3 1749.1 365.9 1751.2 367.6C1753.2 369.2 1755.3 370.9 1757.3 372.6C1759.3 374.4 1761.3 376.2 1763.1 378.1C1765.0 379.9 1766.8 381.9 1768.5 383.9C1770.3 385.9 1771.9 388.0 1773.5 390.1C1775.1 392.2 1776.6 394.4 1778.1 396.6C1779.6 398.9 1780.9 401.2 1782.3 403.5C1783.7 405.8 1785.0 408.2 1786.3 410.5C1787.6 412.9 1788.9 415.2 1790.1 417.6C1791.4 419.9 1792.7 422.3 1794.0 424.6C1795.3 426.9 1796.7 429.2 1798.0 431.5C1800.5 426.0 1802.6 420.3 1805.5 415.0C1808.4 409.7 1811.9 404.8 1815.5 400.0C1819.4 394.8 1823.1 389.3 1828.0 385.0C1832.5 381.0 1837.8 378.0 1843.0 375.0C1847.8 372.2 1852.8 369.5 1858.0 367.5C1865.0 364.8 1872.7 363.8 1880.0 362.0" fill="none" stroke="#fb5307" stroke-width="3.5" stroke-linejoin="round" stroke-linecap="butt" clip-path="url(#ct)" opacity="1.0"/>
<path d="M296.0 1055.0C298.0 1054.5 300.1 1054.3 302.0 1053.5C304.2 1052.6 306.3 1051.6 308.0 1050.0C310.2 1047.9 311.2 1044.8 312.3 1042.0C313.9 1037.8 313.8 1032.7 314.6 1028.0C314.9 1020.3 315.4 1012.7 315.6 1005.0C315.9 995.8 315.8 986.7 315.9 977.5C316.0 968.3 316.1 959.2 316.2 950.0C316.3 941.7 316.3 933.3 316.3 925.0C316.4 916.7 316.4 908.3 316.4 900.0C316.5 891.7 316.5 883.3 316.6 875.0C316.6 866.7 316.7 858.3 316.7 850.0C316.7 841.1 316.8 832.2 316.9 823.3C316.9 814.4 317.0 805.6 317.0 796.7C317.1 787.8 317.1 778.8 317.2 770.0C317.3 764.2 317.4 758.3 317.5 752.5C317.7 746.7 317.8 740.8 317.9 735.0C318.4 726.0 318.4 715.5 319.3 708.0C319.9 703.0 320.4 697.2 321.8 693.0C322.8 690.2 323.5 687.2 325.5 685.0C327.0 683.4 329.0 682.1 331.0 681.2C333.8 680.0 337.0 680.1 340.0 679.8C344.5 679.3 350.7 679.6 356.0 679.5L620.0 680.5C622.5 680.8 625.0 681.0 627.5 681.4C630.2 681.8 632.9 682.1 635.6 682.6C638.4 683.2 641.2 683.7 643.9 684.5C646.5 685.2 649.2 686.0 651.8 687.1C654.3 688.1 656.7 689.2 658.9 690.6C661.0 692.0 663.1 693.5 664.8 695.3C666.5 697.1 667.9 699.1 669.0 701.3C670.2 703.6 670.9 706.1 671.6 708.5C672.3 711.1 672.7 713.8 673.1 716.4C673.5 719.2 673.8 721.9 674.1 724.6C674.4 727.3 674.7 730.1 674.9 732.8C675.2 735.5 675.4 738.2 675.6 740.9C675.8 743.6 676.0 746.3 676.2 749.0C676.4 751.6 676.6 754.3 676.7 757.0C676.9 759.7 677.0 762.3 677.1 765.0C677.3 767.7 677.4 770.3 677.5 773.0C677.6 775.6 677.7 778.3 677.8 780.9C677.9 783.6 677.9 786.2 678.0 788.9C678.1 791.5 678.2 794.2 678.2 796.8C678.3 799.5 678.4 802.1 678.4 804.8C678.5 807.4 678.5 810.1 678.6 812.7C678.7 815.4 678.7 818.1 678.8 820.7C678.8 823.4 678.9 826.0 679.0 828.7C679.0 831.4 679.1 834.0 679.1 836.7C679.2 839.3 679.3 842.0 679.3 844.7C679.4 847.3 679.4 850.0 679.5 852.7C679.5 855.3 679.6 858.0 679.7 860.7C679.7 863.4 679.8 866.0 679.8 868.7C679.9 871.4 680.0 874.0 680.0 876.7C680.1 879.4 680.1 882.1 680.2 884.7C680.3 887.4 680.3 890.1 680.4 892.8C680.4 895.4 680.5 898.1 680.6 900.8C680.6 903.4 680.7 906.1 680.8 908.8C680.8 911.5 680.9 914.1 681.0 916.8C681.0 919.5 681.1 922.2 681.2 924.8C681.2 927.5 681.3 930.2 681.4 932.8C681.5 935.5 681.5 938.2 681.6 940.8C681.7 943.5 681.8 946.2 681.8 948.8C681.9 951.5 682.0 954.2 682.1 956.8C682.2 959.5 682.2 962.2 682.3 964.8C682.4 967.5 682.5 970.1 682.6 972.8C682.7 975.5 682.8 978.1 682.9 980.8C683.0 983.4 683.2 986.1 683.3 988.7C683.5 991.4 683.7 994.0 684.0 996.7C684.3 999.3 684.6 1002.0 685.0 1004.7C685.3 1007.3 685.8 1010.0 686.3 1012.6C686.9 1015.3 687.4 1018.0 688.2 1020.6C688.9 1023.2 689.7 1025.7 690.7 1028.2C691.8 1030.6 692.9 1032.9 694.4 1035.0C695.8 1037.1 697.4 1039.0 699.3 1040.6C701.3 1042.2 703.5 1043.4 705.8 1044.4C708.3 1045.5 711.0 1046.2 713.6 1046.8C716.4 1047.4 719.2 1047.8 722.0 1048.1C724.7 1048.5 727.5 1048.7 730.3 1048.9C732.9 1049.1 735.6 1049.3 738.3 1049.4C740.9 1049.5 743.6 1049.6 746.2 1049.7C748.8 1049.7 751.4 1049.7 754.0 1049.7C756.6 1049.7 759.2 1049.6 761.8 1049.6C764.5 1049.5 767.1 1049.5 769.7 1049.4C772.4 1049.3 775.0 1049.1 777.7 1049.0C780.4 1048.8 783.1 1048.7 785.7 1048.5C788.4 1048.3 791.1 1048.1 793.8 1047.8C796.5 1047.6 799.2 1047.3 801.9 1047.0C804.6 1046.7 807.4 1046.5 810.0 1046.1C812.7 1045.6 815.4 1045.2 818.0 1044.5C820.5 1043.8 823.0 1043.1 825.3 1041.9C827.6 1040.7 829.8 1039.3 831.7 1037.6C833.7 1035.8 835.3 1033.8 836.8 1031.6C838.2 1029.4 839.3 1027.0 840.3 1024.6C841.3 1022.1 842.0 1019.5 842.7 1016.9C843.4 1014.2 843.8 1011.6 844.3 1008.9C844.8 1006.2 845.2 1003.6 845.6 1000.9C846.0 998.2 846.3 995.6 846.6 992.9C846.8 990.3 847.1 987.6 847.3 985.0C847.5 982.3 847.7 979.7 847.9 977.0C848.0 974.4 848.2 971.7 848.3 969.1C848.5 966.4 848.6 963.8 848.8 961.1C848.9 958.4 849.1 955.8 849.2 953.1C849.3 950.5 849.4 947.8 849.6 945.2C849.7 942.5 849.8 939.8 849.9 937.2C850.0 934.5 850.1 931.8 850.2 929.2C850.3 926.5 850.4 923.8 850.5 921.2C850.6 918.5 850.7 915.8 850.8 913.2C850.9 910.5 850.9 907.8 851.0 905.2C851.1 902.5 851.2 899.8 851.2 897.2C851.3 894.5 851.4 891.8 851.5 889.2C851.5 886.5 851.6 883.8 851.7 881.1C851.7 878.5 851.8 875.8 851.8 873.1C851.9 870.5 852.0 867.8 852.0 865.1C852.1 862.4 852.1 859.8 852.2 857.1C852.3 854.4 852.3 851.8 852.4 849.1C852.4 846.4 852.5 843.8 852.5 841.1C852.6 838.4 852.7 835.8 852.7 833.1C852.8 830.4 852.8 827.8 852.9 825.1C852.9 822.4 853.0 819.8 853.1 817.1C853.1 814.4 853.2 811.8 853.3 809.1C853.3 806.4 853.4 803.8 853.4 801.1C853.5 798.5 853.6 795.8 853.7 793.1C853.7 790.5 853.8 787.8 853.9 785.2C854.0 782.5 854.0 779.9 854.1 777.2C854.2 774.5 854.3 771.9 854.4 769.2C854.4 766.5 854.5 763.9 854.6 761.2C854.7 758.5 854.8 755.9 854.8 753.2C854.9 750.5 855.0 747.8 855.1 745.1C855.2 742.4 855.2 739.7 855.4 737.0C855.5 734.4 855.6 731.7 855.9 729.0C856.2 726.3 856.4 723.7 856.9 721.0C857.4 718.4 857.9 715.8 858.6 713.3C859.4 710.7 860.2 708.2 861.3 705.8C862.4 703.4 863.7 701.1 865.2 699.0C866.8 697.0 868.7 695.1 870.7 693.5C872.8 691.9 875.2 690.7 877.6 689.6C880.0 688.4 882.5 687.6 885.0 686.8C887.6 686.1 890.2 685.5 892.8 685.0C895.4 684.5 898.1 684.2 900.8 683.8C903.4 683.5 906.1 683.3 908.8 683.0C911.5 682.8 914.2 682.6 916.8 682.4C919.5 682.2 922.2 682.0 924.9 681.8C927.5 681.7 930.2 681.5 932.9 681.4C935.6 681.2 938.2 681.1 940.9 681.0C943.6 680.9 946.2 680.8 948.9 680.8C951.6 680.7 954.2 680.6 956.9 680.6C959.6 680.5 962.2 680.4 964.9 680.4C967.5 680.4 970.2 680.3 972.9 680.3C975.5 680.3 978.2 680.3 980.8 680.2C983.5 680.2 986.2 680.2 988.8 680.2C991.5 680.2 994.1 680.2 996.8 680.2C999.5 680.2 1002.1 680.2 1004.8 680.2C1007.5 680.2 1010.1 680.2 1012.8 680.1C1015.5 680.1 1018.1 680.1 1020.8 680.1C1023.5 680.1 1026.1 680.1 1028.8 680.1C1031.5 680.1 1034.1 680.1 1036.8 680.1C1039.5 680.1 1042.1 680.1 1044.8 680.1C1047.5 680.1 1050.1 680.1 1052.8 680.1C1055.5 680.1 1058.2 680.1 1060.8 680.1C1063.5 680.1 1066.2 680.1 1068.8 680.1C1071.5 680.1 1074.2 680.1 1076.8 680.1C1079.5 680.1 1082.2 680.1 1084.9 680.1C1087.5 680.1 1090.2 680.1 1092.9 680.1C1095.5 680.1 1098.2 680.1 1100.9 680.1C1103.5 680.2 1106.2 680.2 1108.9 680.2C1111.5 680.2 1114.2 680.2 1116.9 680.2C1119.6 680.2 1122.2 680.2 1124.9 680.2C1127.6 680.3 1130.2 680.3 1132.9 680.3C1135.6 680.3 1138.2 680.3 1140.9 680.3C1143.6 680.3 1146.2 680.4 1148.9 680.4C1151.6 680.4 1154.2 680.4 1156.9 680.4C1159.6 680.4 1162.2 680.5 1164.9 680.5C1167.6 680.5 1170.2 680.5 1172.9 680.5C1175.6 680.5 1178.2 680.6 1180.9 680.6C1183.6 680.6 1186.2 680.6 1188.9 680.6C1191.6 680.6 1194.2 680.7 1196.9 680.7C1199.6 680.7 1202.3 680.7 1204.9 680.7C1207.6 680.7 1210.3 680.7 1212.9 680.8C1215.6 680.8 1218.3 680.8 1220.9 680.8C1223.6 680.8 1226.3 680.8 1228.9 680.8C1231.6 680.9 1234.3 680.9 1236.9 680.9C1239.6 680.9 1242.3 680.9 1244.9 680.9C1247.6 680.9 1250.3 680.9 1252.9 680.9C1255.6 681.0 1258.3 681.0 1260.9 681.0C1263.6 681.0 1266.3 681.0 1268.9 681.0C1271.6 681.0 1274.3 681.0 1276.9 681.0C1279.6 681.0 1282.3 681.0 1284.9 681.0C1287.6 681.0 1290.3 681.0 1292.9 681.0C1295.6 681.1 1298.3 681.1 1300.9 681.1C1303.6 681.1 1306.3 681.1 1308.9 681.1C1311.6 681.1 1314.3 681.1 1316.9 681.1C1319.6 681.2 1322.3 681.2 1324.9 681.2C1327.6 681.2 1330.3 681.2 1332.9 681.3C1335.6 681.3 1338.3 681.3 1341.0 681.3C1343.6 681.4 1346.3 681.4 1349.0 681.4C1351.6 681.5 1354.3 681.5 1357.0 681.5C1359.6 681.6 1362.3 681.6 1365.0 681.7C1367.6 681.7 1370.3 681.8 1373.0 681.8C1375.6 681.9 1378.3 681.9 1381.0 682.0C1383.6 682.1 1386.3 682.1 1389.0 682.2C1391.6 682.3 1394.3 682.4 1397.0 682.5C1399.6 682.5 1402.3 682.6 1405.0 682.7C1407.6 682.8 1410.3 682.9 1413.0 683.0C1415.6 683.1 1418.3 683.2 1421.0 683.3C1423.7 683.5 1426.3 683.6 1429.0 683.7C1431.7 683.8 1434.3 684.0 1437.0 684.1C1439.6 684.3 1442.3 684.5 1445.0 684.7C1447.6 684.9 1450.3 685.2 1452.9 685.5C1455.6 685.8 1458.2 686.1 1460.8 686.5C1463.4 687.0 1466.1 687.4 1468.6 688.0C1471.2 688.6 1473.8 689.2 1476.4 689.9C1479.0 690.7 1481.5 691.5 1484.0 692.4C1486.5 693.4 1489.0 694.4 1491.4 695.6C1493.7 696.9 1496.0 698.2 1498.2 699.7C1500.3 701.3 1502.3 703.0 1504.2 704.9C1506.1 706.8 1507.7 708.9 1509.3 711.1C1510.8 713.3 1512.2 715.6 1513.4 718.0C1514.6 720.4 1515.7 722.9 1516.6 725.4C1517.5 727.9 1518.2 730.4 1518.9 733.0C1519.5 735.6 1520.0 738.2 1520.5 740.8C1521.0 743.4 1521.4 746.1 1521.8 748.7C1522.1 751.3 1522.5 754.0 1522.8 756.6C1523.1 759.3 1523.4 761.9 1523.7 764.6C1524.0 767.2 1524.3 769.9 1524.6 772.5C1524.9 775.2 1525.2 777.8 1525.4 780.5C1525.7 783.2 1526.0 785.8 1526.2 788.5C1526.4 791.1 1526.7 793.8 1526.9 796.4C1527.1 799.1 1527.3 801.8 1527.5 804.4C1527.8 807.1 1528.0 809.7 1528.1 812.4C1528.3 815.1 1528.5 817.7 1528.7 820.4C1528.9 823.0 1529.1 825.7 1529.2 828.4C1529.4 831.0 1529.6 833.7 1529.7 836.4C1529.9 839.0 1530.0 841.7 1530.2 844.4C1530.4 847.0 1530.5 849.7 1530.6 852.4C1530.8 855.0 1530.9 857.7 1531.1 860.4C1531.2 863.0 1531.4 865.7 1531.5 868.3C1531.6 871.0 1531.8 873.7 1531.9 876.3C1532.1 879.0 1532.2 881.7 1532.3 884.3C1532.5 887.0 1532.6 889.7 1532.8 892.3C1532.9 895.0 1533.1 897.7 1533.2 900.3C1533.4 903.0 1533.5 905.6 1533.7 908.3C1533.8 911.0 1534.0 913.6 1534.1 916.3C1534.3 918.9 1534.5 921.6 1534.7 924.2C1534.8 926.9 1535.0 929.6 1535.2 932.2C1535.5 934.9 1535.7 937.5 1535.9 940.2C1536.2 942.8 1536.4 945.5 1536.7 948.1C1537.0 950.8 1537.3 953.4 1537.6 956.1C1537.9 958.7 1538.3 961.4 1538.7 964.0C1539.0 966.6 1539.4 969.3 1539.9 971.9C1540.3 974.6 1540.8 977.2 1541.3 979.8C1541.8 982.5 1542.4 985.1 1542.9 987.7C1543.5 990.4 1544.1 993.0 1544.8 995.6C1545.5 998.2 1546.2 1000.8 1547.1 1003.3C1548.0 1005.8 1548.9 1008.3 1550.1 1010.7C1551.2 1013.0 1552.5 1015.3 1554.0 1017.4C1555.5 1019.6 1557.1 1021.6 1559.0 1023.4C1560.9 1025.3 1562.9 1027.0 1565.1 1028.5C1567.3 1030.1 1569.6 1031.5 1572.0 1032.8C1574.3 1034.1 1576.8 1035.2 1579.3 1036.3C1581.8 1037.3 1584.3 1038.1 1586.9 1038.9C1589.4 1039.7 1592.0 1040.3 1594.6 1040.9C1597.2 1041.4 1599.8 1041.9 1602.4 1042.3C1605.0 1042.6 1607.7 1042.9 1610.3 1043.2C1613.0 1043.5 1615.6 1043.6 1618.3 1043.8C1621.0 1044.0 1623.6 1044.1 1626.3 1044.2C1629.0 1044.3 1631.7 1044.4 1634.3 1044.5C1637.0 1044.6 1639.7 1044.7 1642.3 1044.8C1645.0 1044.8 1647.7 1044.9 1650.3 1045.0C1653.0 1045.0 1655.7 1045.1 1658.4 1045.1C1661.0 1045.2 1663.7 1045.2 1666.4 1045.2C1669.0 1045.3 1671.7 1045.3 1674.3 1045.4C1677.0 1045.4 1679.7 1045.4 1682.3 1045.4C1685.0 1045.5 1687.7 1045.5 1690.3 1045.4C1693.0 1045.4 1695.6 1045.4 1698.3 1045.3C1701.0 1045.3 1703.6 1045.2 1706.3 1045.1C1708.9 1045.0 1711.6 1044.9 1714.3 1044.7C1716.9 1044.5 1719.6 1044.4 1722.2 1044.1C1724.9 1043.9 1727.6 1043.6 1730.2 1043.3C1732.9 1043.0 1735.5 1042.7 1738.2 1042.3C1740.9 1041.9 1743.5 1041.5 1746.2 1041.0C1748.8 1040.4 1751.5 1039.9 1754.1 1039.2C1756.6 1038.6 1759.2 1037.9 1761.7 1037.0C1764.2 1036.1 1766.7 1035.2 1769.1 1034.1C1771.4 1032.9 1773.7 1031.7 1775.9 1030.3C1778.1 1028.9 1780.2 1027.3 1782.2 1025.6C1784.2 1023.8 1786.0 1021.9 1787.8 1019.9C1789.5 1017.8 1791.1 1015.6 1792.6 1013.4C1794.2 1011.1 1795.5 1008.8 1796.8 1006.4C1798.1 1004.0 1799.2 1001.6 1800.2 999.1C1801.2 996.6 1802.2 994.1 1803.0 991.6C1803.8 989.1 1804.5 986.6 1805.2 984.0C1805.8 981.4 1806.3 978.8 1806.8 976.2C1807.3 973.6 1807.8 971.0 1808.1 968.4C1808.5 965.8 1808.8 963.1 1809.1 960.5C1809.4 957.8 1809.7 955.2 1809.9 952.5C1810.2 949.8 1810.4 947.2 1810.6 944.5C1810.8 941.8 1811.0 939.2 1811.2 936.5C1811.4 933.8 1811.6 931.2 1811.8 928.5C1812.0 925.8 1812.2 923.2 1812.4 920.5C1812.6 917.8 1812.8 915.2 1812.9 912.5C1813.1 909.8 1813.3 907.2 1813.5 904.5C1813.7 901.8 1813.8 899.2 1814.0 896.5C1814.2 893.8 1814.4 891.2 1814.5 888.5C1814.7 885.9 1814.9 883.2 1815.1 880.5C1815.2 877.9 1815.4 875.2 1815.6 872.5C1815.8 869.9 1815.9 867.2 1816.1 864.6C1816.3 861.9 1816.5 859.2 1816.6 856.6C1816.8 853.9 1817.0 851.3 1817.2 848.6C1817.4 845.9 1817.6 843.3 1817.8 840.6C1818.0 838.0 1818.2 835.3 1818.4 832.7C1818.6 830.0 1818.8 827.3 1819.0 824.7C1819.2 822.0 1819.4 819.4 1819.6 816.7C1819.9 814.1 1820.1 811.4 1820.3 808.8C1820.6 806.1 1820.8 803.4 1821.0 800.8C1821.3 798.1 1821.6 795.5 1821.8 792.8C1822.1 790.2 1822.4 787.5 1822.6 784.9C1822.9 782.2 1823.2 779.6 1823.5 776.9C1823.8 774.3 1824.1 771.6 1824.5 769.0C1824.8 766.3 1825.2 763.7 1825.6 761.1C1826.0 758.4 1826.4 755.8 1826.8 753.1C1827.3 750.5 1827.8 747.9 1828.3 745.2C1828.9 742.6 1829.5 740.0 1830.1 737.4C1830.8 734.8 1831.5 732.2 1832.4 729.6C1833.2 727.1 1834.1 724.6 1835.3 722.2C1836.4 719.9 1837.7 717.6 1839.2 715.5C1840.7 713.3 1842.4 711.3 1844.3 709.5C1846.2 707.6 1848.2 705.9 1850.4 704.4C1852.6 702.8 1854.9 701.4 1857.3 700.1C1859.6 698.8 1862.1 697.7 1864.6 696.7C1867.2 695.8 1869.7 694.9 1872.3 694.2C1874.8 693.5 1877.4 693.1 1880.0 692.6" fill="none" stroke="#0673c0" stroke-width="3.5" stroke-linejoin="round" stroke-linecap="butt" clip-path="url(#cb)" opacity="1.0"/>
<path d="M194.9 676.0L196.9 1056.2L286.0 1055.8C288.3 1054.9 291.0 1054.6 293.0 1053.0C295.2 1051.3 296.4 1048.5 297.5 1046.0C299.2 1042.2 299.3 1036.7 299.8 1032.0C300.6 1025.0 300.3 1017.3 300.6 1010.0L301.3 712.0C301.4 706.3 301.2 699.5 301.7 695.0C302.0 692.0 301.7 688.7 303.0 686.0C303.8 684.2 304.9 682.4 306.5 681.2C308.1 680.1 310.1 679.8 312.0 679.3C314.8 678.6 318.7 678.8 322.0 678.6C327.0 678.4 334.0 678.5 340.0 678.5L525.0 678.5L526.8 640.0C527.2 646.3 527.5 652.7 527.9 659.0C528.3 665.3 528.7 671.7 529.0 678.0C529.4 686.3 529.5 694.7 529.8 703.0C530.0 711.3 530.3 719.7 530.5 728.0C530.8 736.3 531.0 744.7 531.3 753.0C531.8 746.2 532.2 739.3 532.6 732.5C533.1 725.7 533.3 718.8 534.0 712.0C534.7 704.6 535.6 693.6 537.0 690.0C538.0 687.6 539.3 685.3 540.5 683.0C543.0 682.4 545.5 681.7 548.1 681.2C550.7 680.7 553.3 680.5 556.0 680.3C558.6 680.1 561.3 680.0 564.0 680.0C566.7 679.9 569.4 680.0 572.1 680.1C574.8 680.1 577.5 680.2 580.2 680.3C582.9 680.4 585.5 680.4 588.2 680.5C590.9 680.6 593.5 680.6 596.2 680.7C598.8 680.7 601.4 680.8 604.1 680.8C606.7 680.9 609.3 681.0 612.0 681.1C614.6 681.2 617.3 681.3 619.9 681.5C622.6 681.7 625.3 681.8 628.0 682.1C630.7 682.3 633.4 682.6 636.1 683.0C638.8 683.3 641.6 683.7 644.2 684.3C646.9 684.9 649.5 685.5 652.0 686.5C654.4 687.5 656.8 688.6 659.0 690.1C661.1 691.5 663.2 693.2 664.8 695.2C666.5 697.2 667.9 699.5 669.0 701.8C670.2 704.2 671.0 706.8 671.7 709.3C672.4 711.9 672.9 714.5 673.4 717.1C673.8 719.7 674.1 722.4 674.4 725.0C674.7 727.7 674.8 730.4 675.0 733.1C675.2 735.7 675.4 738.4 675.6 741.1C675.7 743.8 675.9 746.4 676.1 749.1C676.2 751.8 676.4 754.5 676.5 757.1C676.7 759.8 676.8 762.5 677.0 765.1C677.1 767.8 677.2 770.5 677.3 773.2C677.4 775.8 677.6 778.5 677.7 781.2C677.8 783.8 677.9 786.5 678.0 789.2C678.1 791.8 678.2 794.5 678.3 797.2C678.3 799.8 678.4 802.5 678.5 805.2C678.6 807.8 678.7 810.5 678.7 813.2C678.8 815.8 678.9 818.5 678.9 821.2C679.0 823.8 679.1 826.5 679.1 829.2C679.2 831.8 679.2 834.5 679.3 837.2C679.3 839.8 679.4 842.5 679.4 845.2C679.5 847.8 679.5 850.5 679.6 853.2C679.6 855.8 679.7 858.5 679.7 861.2C679.8 863.8 679.8 866.5 679.9 869.2C679.9 871.8 680.0 874.5 680.0 877.2C680.1 879.9 680.1 882.5 680.2 885.2C680.2 887.9 680.3 890.5 680.3 893.2C680.4 895.9 680.4 898.6 680.5 901.2C680.5 903.9 680.6 906.6 680.6 909.2C680.7 911.9 680.7 914.6 680.8 917.3C680.9 919.9 680.9 922.6 681.0 925.3C681.1 928.0 681.1 930.6 681.2 933.3C681.3 936.0 681.4 938.7 681.5 941.3C681.6 944.0 681.6 946.7 681.7 949.4C681.9 952.0 682.0 954.7 682.1 957.4C682.2 960.0 682.3 962.7 682.4 965.4C682.6 968.0 682.7 970.7 682.8 973.3C683.0 976.0 683.1 978.6 683.3 981.3C683.5 983.9 683.6 986.6 683.8 989.2C684.0 991.9 684.2 994.5 684.4 997.1C684.6 999.8 684.8 1002.4 685.1 1005.1C685.4 1007.8 685.8 1010.5 686.2 1013.1C686.7 1015.9 687.1 1018.6 687.8 1021.3C688.5 1024.0 689.2 1026.6 690.3 1029.1C691.4 1031.5 692.6 1033.9 694.2 1035.9C695.8 1037.8 697.7 1039.5 699.8 1040.9C702.0 1042.4 704.4 1043.4 706.9 1044.3C709.4 1045.3 712.0 1045.9 714.7 1046.6C717.3 1047.2 720.0 1047.7 722.7 1048.1C725.3 1048.5 728.0 1048.9 730.6 1049.1C733.3 1049.4 736.0 1049.6 738.6 1049.7C741.3 1049.9 744.0 1049.9 746.6 1050.0C749.3 1050.0 751.9 1050.0 754.6 1049.9C757.3 1049.8 759.9 1049.7 762.6 1049.6C765.3 1049.5 767.9 1049.4 770.6 1049.2C773.2 1049.0 775.9 1048.9 778.6 1048.7C781.2 1048.5 783.9 1048.4 786.6 1048.2C789.2 1048.1 791.9 1047.9 794.6 1047.8C797.2 1047.7 799.9 1047.6 802.6 1047.5C805.2 1047.3 807.9 1047.2 810.5 1046.8C813.2 1046.5 815.8 1046.1 818.4 1045.4C821.1 1044.7 823.7 1043.8 826.2 1042.7C828.6 1041.6 831.0 1040.3 833.2 1038.6C835.3 1037.1 837.2 1035.3 838.8 1033.2C840.4 1031.2 841.6 1029.0 842.7 1026.6C843.7 1024.2 844.4 1021.7 845.1 1019.2C845.8 1016.6 846.2 1013.9 846.7 1011.2C847.1 1008.6 847.5 1005.9 847.9 1003.2C848.3 1000.6 848.6 997.9 849.0 995.2C849.3 992.5 849.6 989.9 849.9 987.2C850.2 984.5 850.4 981.9 850.7 979.2C850.9 976.5 851.1 973.9 851.3 971.2C851.5 968.6 851.7 965.9 851.8 963.2C852.0 960.6 852.2 957.9 852.3 955.2C852.4 952.6 852.5 949.9 852.6 947.2C852.8 944.6 852.9 941.9 852.9 939.3C853.0 936.6 853.1 933.9 853.2 931.3C853.3 928.6 853.3 925.9 853.4 923.3C853.5 920.6 853.6 918.0 853.6 915.3C853.7 912.6 853.8 910.0 853.8 907.3C853.9 904.6 854.0 902.0 854.1 899.3C854.1 896.6 854.2 894.0 854.3 891.3C854.4 888.6 854.5 885.9 854.5 883.3C854.6 880.6 854.7 877.9 854.8 875.3C854.9 872.6 854.9 869.9 855.0 867.3C855.1 864.6 855.2 861.9 855.3 859.2C855.3 856.6 855.4 853.9 855.5 851.2C855.5 848.5 855.6 845.9 855.7 843.2C855.7 840.5 855.8 837.9 855.9 835.2C855.9 832.5 856.0 829.8 856.0 827.2C856.1 824.5 856.1 821.8 856.1 819.1C856.2 816.5 856.2 813.8 856.2 811.1C856.2 808.5 856.3 805.8 856.3 803.1C856.3 800.4 856.3 797.8 856.4 795.1C856.4 792.4 856.4 789.8 856.5 787.1C856.6 784.4 856.6 781.8 856.7 779.1C856.8 776.4 856.9 773.8 857.0 771.1C857.1 768.5 857.2 765.8 857.4 763.2C857.5 760.5 857.6 757.8 857.8 755.2C857.9 752.5 858.1 749.9 858.3 747.2C858.4 744.5 858.5 741.8 858.7 739.2C858.8 736.5 858.8 733.8 858.9 731.1C859.1 728.4 859.1 725.7 859.3 723.0C859.5 720.3 859.8 717.6 860.4 715.0C861.0 712.4 861.8 709.8 862.9 707.4C864.0 704.9 865.3 702.6 866.9 700.4C868.5 698.3 870.2 696.3 872.2 694.5C874.2 692.8 876.3 691.4 878.5 690.1C880.8 688.9 883.2 687.9 885.6 687.1C888.1 686.2 890.7 685.7 893.2 685.1C895.9 684.6 898.6 684.2 901.2 683.9C904.0 683.5 906.7 683.3 909.4 683.0C912.1 682.8 914.8 682.6 917.6 682.3C920.3 682.1 923.0 681.9 925.7 681.7C928.4 681.6 931.1 681.4 933.7 681.2C936.4 681.1 939.1 680.9 941.8 680.8C944.5 680.6 947.1 680.5 949.8 680.4C952.5 680.3 955.1 680.2 957.8 680.1C960.4 680.0 963.1 679.9 965.8 679.8C968.4 679.7 971.1 679.7 973.7 679.6C976.4 679.5 979.0 679.5 981.7 679.4C984.3 679.4 987.0 679.3 989.6 679.3C992.3 679.3 994.9 679.2 997.6 679.2C1000.3 679.2 1002.9 679.1 1005.6 679.1C1008.2 679.1 1010.9 679.1 1013.6 679.0C1016.2 679.0 1018.9 679.0 1021.6 679.0C1024.2 679.0 1026.9 679.0 1029.6 679.0C1032.3 679.0 1034.9 679.0 1037.6 678.9C1040.3 678.9 1042.9 678.9 1045.6 678.9C1048.3 678.9 1051.0 678.9 1053.7 678.9C1056.3 678.9 1059.0 678.9 1061.7 679.0C1064.4 679.0 1067.0 679.0 1069.7 679.0C1072.4 679.0 1075.1 679.0 1077.7 679.0C1080.4 679.0 1083.1 679.0 1085.8 679.0C1088.5 679.0 1091.1 679.0 1093.8 679.0C1096.5 679.0 1099.1 679.0 1101.8 679.0C1104.5 679.0 1107.2 679.0 1109.8 679.0C1112.5 679.0 1115.2 679.0 1117.9 679.0C1120.5 679.0 1123.2 679.0 1125.9 679.0C1128.5 679.0 1131.2 679.0 1133.9 679.0C1136.5 679.0 1139.2 679.0 1141.9 679.0C1144.5 679.0 1147.2 679.0 1149.9 679.0C1152.5 679.0 1155.2 679.0 1157.9 679.0C1160.5 679.0 1163.2 679.0 1165.9 679.0C1168.5 679.0 1171.2 679.0 1173.9 679.0C1176.5 679.0 1179.2 679.0 1181.9 679.0C1184.6 679.0 1187.2 679.0 1189.9 679.0C1192.6 679.0 1195.2 679.0 1197.9 679.0C1200.6 679.0 1203.2 679.0 1205.9 679.0C1208.6 679.0 1211.2 679.0 1213.9 679.0C1216.6 679.0 1219.2 679.0 1221.9 679.0C1224.6 679.0 1227.2 679.0 1229.9 679.0C1232.6 679.0 1235.3 679.0 1237.9 679.0C1240.6 679.0 1243.3 679.0 1246.0 679.0C1248.6 679.0 1251.3 679.0 1254.0 679.0C1256.6 679.0 1259.3 679.0 1262.0 679.0C1264.0 677.8 1266.2 677.0 1268.0 675.5C1270.5 673.4 1271.8 670.2 1273.8 667.5C1274.8 671.7 1276.0 675.8 1277.0 680.0C1278.0 684.2 1279.0 688.3 1280.0 692.5C1281.5 689.7 1282.2 686.0 1284.5 684.0C1286.1 682.7 1288.2 682.2 1290.0 681.2C1292.7 681.3 1295.3 681.3 1298.0 681.4C1300.6 681.4 1303.3 681.4 1306.0 681.4C1308.6 681.5 1311.3 681.5 1314.0 681.5C1316.6 681.5 1319.3 681.5 1322.0 681.5C1324.7 681.5 1327.3 681.5 1330.0 681.5C1332.7 681.5 1335.4 681.5 1338.0 681.5C1340.7 681.5 1343.4 681.5 1346.1 681.5C1348.8 681.5 1351.4 681.5 1354.1 681.5C1356.8 681.5 1359.5 681.5 1362.1 681.5C1364.8 681.5 1367.5 681.6 1370.1 681.6C1372.8 681.6 1375.5 681.7 1378.1 681.7C1380.8 681.8 1383.4 681.8 1386.1 681.9C1388.8 682.0 1391.4 682.0 1394.1 682.1C1396.7 682.2 1399.4 682.3 1402.0 682.4C1404.7 682.5 1407.3 682.6 1410.0 682.7C1412.7 682.9 1415.3 683.0 1418.0 683.1C1420.6 683.3 1423.3 683.4 1426.0 683.6C1428.6 683.7 1431.3 683.9 1434.0 684.1C1436.7 684.3 1439.3 684.4 1442.0 684.6C1444.7 684.8 1447.4 685.0 1450.1 685.3C1452.8 685.5 1455.5 685.8 1458.1 686.1C1460.8 686.5 1463.5 686.9 1466.1 687.3C1468.7 687.8 1471.3 688.4 1473.9 689.0C1476.4 689.7 1479.0 690.5 1481.5 691.3C1484.0 692.2 1486.4 693.3 1488.8 694.4C1491.2 695.6 1493.5 696.9 1495.7 698.4C1497.9 699.8 1500.1 701.4 1502.0 703.2C1504.0 704.9 1505.8 706.8 1507.5 708.9C1509.1 710.9 1510.6 713.1 1511.9 715.4C1513.2 717.7 1514.3 720.2 1515.4 722.6C1516.4 725.1 1517.2 727.7 1518.0 730.2C1518.8 732.8 1519.5 735.4 1520.1 738.0C1520.7 740.6 1521.2 743.2 1521.6 745.9C1522.1 748.5 1522.4 751.1 1522.8 753.8C1523.1 756.4 1523.4 759.1 1523.7 761.7C1524.0 764.4 1524.3 767.1 1524.5 769.7C1524.8 772.4 1525.0 775.0 1525.3 777.7C1525.5 780.4 1525.8 783.0 1526.0 785.7C1526.2 788.3 1526.4 791.0 1526.6 793.7C1526.8 796.3 1527.0 799.0 1527.2 801.7C1527.4 804.3 1527.6 807.0 1527.8 809.6C1528.0 812.3 1528.1 815.0 1528.3 817.6C1528.5 820.3 1528.7 823.0 1528.8 825.6C1529.0 828.3 1529.2 830.9 1529.3 833.6C1529.5 836.3 1529.7 838.9 1529.8 841.6C1530.0 844.3 1530.2 846.9 1530.3 849.6C1530.5 852.2 1530.6 854.9 1530.8 857.6C1531.0 860.2 1531.1 862.9 1531.3 865.5C1531.5 868.2 1531.6 870.9 1531.8 873.5C1532.0 876.2 1532.1 878.8 1532.3 881.5C1532.5 884.2 1532.6 886.8 1532.8 889.5C1533.0 892.2 1533.1 894.8 1533.3 897.5C1533.4 900.1 1533.6 902.8 1533.8 905.5C1533.9 908.1 1534.1 910.8 1534.3 913.5C1534.4 916.1 1534.6 918.8 1534.7 921.5C1534.9 924.2 1535.0 926.8 1535.2 929.5C1535.4 932.2 1535.5 934.8 1535.7 937.5C1535.9 940.2 1536.1 942.8 1536.3 945.5C1536.6 948.2 1536.8 950.8 1537.1 953.5C1537.4 956.1 1537.7 958.8 1538.0 961.4C1538.3 964.1 1538.7 966.7 1539.1 969.3C1539.5 972.0 1540.0 974.6 1540.5 977.2C1541.0 979.8 1541.5 982.4 1542.2 985.0C1542.8 987.6 1543.4 990.2 1544.2 992.8C1544.9 995.3 1545.7 997.9 1546.6 1000.4C1547.4 1003.0 1548.4 1005.5 1549.4 1008.0C1550.5 1010.5 1551.6 1012.9 1552.9 1015.2C1554.2 1017.5 1555.7 1019.7 1557.4 1021.7C1559.0 1023.7 1560.9 1025.6 1562.8 1027.2C1564.9 1028.9 1567.0 1030.3 1569.3 1031.6C1571.6 1033.0 1574.0 1034.1 1576.5 1035.1C1579.0 1036.1 1581.6 1036.9 1584.2 1037.7C1586.8 1038.5 1589.4 1039.2 1592.0 1039.8C1594.7 1040.4 1597.3 1041.0 1599.9 1041.5C1602.6 1042.0 1605.2 1042.4 1607.8 1042.8C1610.5 1043.1 1613.1 1043.5 1615.8 1043.7C1618.4 1044.0 1621.0 1044.2 1623.7 1044.4C1626.3 1044.6 1629.0 1044.7 1631.6 1044.8C1634.3 1044.9 1636.9 1045.0 1639.6 1045.1C1642.2 1045.1 1644.9 1045.1 1647.5 1045.1C1650.2 1045.1 1652.9 1045.1 1655.5 1045.0C1658.2 1045.0 1660.9 1044.9 1663.5 1044.9C1666.2 1044.8 1668.9 1044.7 1671.6 1044.7C1674.2 1044.6 1676.9 1044.5 1679.6 1044.4C1682.3 1044.4 1685.0 1044.3 1687.7 1044.2C1690.4 1044.1 1693.1 1044.1 1695.7 1043.9C1698.4 1043.8 1701.1 1043.7 1703.8 1043.5C1706.5 1043.3 1709.1 1043.1 1711.8 1042.8C1714.4 1042.6 1717.1 1042.3 1719.7 1041.9C1722.3 1041.5 1725.0 1041.1 1727.6 1040.6C1730.1 1040.0 1732.7 1039.5 1735.3 1038.8C1737.8 1038.1 1740.4 1037.3 1742.9 1036.5C1745.4 1035.6 1747.8 1034.6 1750.3 1033.5C1752.7 1032.4 1755.1 1031.2 1757.5 1029.9C1759.8 1028.6 1762.1 1027.1 1764.2 1025.5C1766.3 1023.9 1768.3 1022.2 1770.2 1020.2C1772.0 1018.3 1773.7 1016.3 1775.2 1014.1C1776.7 1012.0 1778.1 1009.7 1779.3 1007.3C1780.5 1005.0 1781.6 1002.6 1782.5 1000.1C1783.4 997.6 1784.2 995.1 1784.9 992.5C1785.6 990.0 1786.1 987.4 1786.7 984.8C1787.2 982.1 1787.6 979.5 1788.0 976.8C1788.4 974.1 1788.7 971.5 1789.1 968.8C1789.4 966.1 1789.7 963.5 1790.0 960.8C1790.3 958.1 1790.6 955.5 1790.9 952.8C1791.2 950.1 1791.5 947.5 1791.7 944.8C1792.0 942.2 1792.2 939.5 1792.4 936.8C1792.7 934.2 1792.9 931.5 1793.1 928.9C1793.3 926.2 1793.5 923.5 1793.7 920.9C1793.9 918.2 1794.1 915.6 1794.2 912.9C1794.4 910.3 1794.6 907.6 1794.7 904.9C1794.9 902.3 1795.1 899.6 1795.2 897.0C1795.4 894.3 1795.5 891.6 1795.6 889.0C1795.8 886.3 1795.9 883.7 1796.0 881.0C1796.2 878.3 1796.3 875.7 1796.4 873.0C1796.5 870.3 1796.7 867.7 1796.8 865.0C1796.9 862.3 1797.0 859.7 1797.2 857.0C1797.3 854.4 1797.4 851.7 1797.5 849.0C1797.7 846.4 1797.8 843.7 1797.9 841.0C1798.1 838.4 1798.2 835.7 1798.4 833.0C1798.5 830.4 1798.7 827.7 1798.8 825.0C1799.0 822.4 1799.2 819.7 1799.3 817.0C1799.5 814.4 1799.7 811.7 1799.9 809.1C1800.1 806.4 1800.3 803.7 1800.5 801.1C1800.7 798.4 1801.0 795.8 1801.2 793.1C1801.5 790.4 1801.7 787.8 1802.0 785.1C1802.3 782.5 1802.6 779.8 1802.9 777.1C1803.2 774.5 1803.5 771.8 1803.8 769.2C1804.2 766.5 1804.5 763.9 1804.9 761.2C1805.3 758.6 1805.7 755.9 1806.1 753.3C1806.5 750.6 1806.9 748.0 1807.4 745.3C1807.8 742.7 1808.3 740.1 1808.9 737.4C1809.4 734.8 1810.0 732.2 1810.8 729.7C1811.5 727.2 1812.3 724.6 1813.3 722.2C1814.4 719.8 1815.5 717.4 1816.9 715.2C1818.3 712.9 1819.9 710.8 1821.6 708.8C1823.3 706.8 1825.2 704.9 1827.3 703.2C1829.3 701.4 1831.5 699.9 1833.8 698.5C1836.0 697.1 1838.4 696.0 1840.9 694.9C1843.3 693.8 1845.8 692.9 1848.4 692.2C1851.0 691.4 1853.6 690.7 1856.3 690.1C1858.9 689.5 1861.6 689.1 1864.2 688.7C1866.9 688.2 1869.5 687.9 1872.2 687.6C1874.8 687.3 1877.4 687.1 1880.0 686.8" fill="none" stroke="#fb5307" stroke-width="3.5" stroke-linejoin="round" stroke-linecap="butt" clip-path="url(#cb)" opacity="1.0"/>
</g>
<rect x="1200.4" y="45.2" width="668.5" height="138.9" fill="#ffffff" stroke="#1c1c1c" stroke-width="4.3"/>
<line x1="1215.5" y1="84" x2="1393" y2="84" stroke="#0673c0" stroke-width="4.3"/>
<line x1="1215.5" y1="145" x2="1393" y2="145" stroke="#fb5307" stroke-width="4.3"/>
<g filter="url(#softt)">
<g fill="#2b2b2b" font-size="43px" style="stroke-width:0.25px">
<text transform="translate(0,99.5) scale(1,1.04)" x="1400.9 1428.8 1450.7 1475.3 1488.0 1517.5 1545.3" y="0" font-size="43.5px" text-anchor="start">p11-FEM</text>
<text transform="translate(0,164.0) scale(1,1.04)" x="1400.8 1431.1 1453.8 1479.5 1500.7 1527.8 1552.0 1562.1 1597.0 1619.2 1656.8 1683.6 1704.7 1731.2 1751.7 1778.1 1788.3 1800.7 1822.9" y="0" font-size="43.5px" text-anchor="start">Second Compensation</text>
</g>
<g fill="#3a3a3a" font-size="48px" text-anchor="middle" style="stroke-width:0.5px">
<text transform="translate(194.2,530) scale(1.02,1.03)">0</text>
<text transform="translate(461.8,530) scale(1.02,1.03)">10</text>
<text transform="translate(720.0,530) scale(1.02,1.03)">20</text>
<text transform="translate(985.6,530) scale(1.02,1.03)">30</text>
<text transform="translate(1249.0,530) scale(1.02,1.03)">40</text>
<text transform="translate(1511.0,530) scale(1.02,1.03)">50</text>
<text transform="translate(1775.4,530) scale(1.02,1.03)">60</text>
<text transform="translate(194.2,1121) scale(1.02,1.03)">0</text>
<text transform="translate(461.8,1121) scale(1.02,1.03)">10</text>
<text transform="translate(720.0,1121) scale(1.02,1.03)">20</text>
<text transform="translate(985.6,1121) scale(1.02,1.03)">30</text>
<text transform="translate(1249.0,1121) scale(1.02,1.03)">40</text>
<text transform="translate(1511.0,1121) scale(1.02,1.03)">50</text>
<text transform="translate(1775.4,1121) scale(1.02,1.03)">60</text>
</g>
<g fill="#3a3a3a" font-size="48px" text-anchor="end" style="stroke-width:0.5px">
<text transform="translate(179,698.5) scale(1.02,1.03)">0</text>
<text transform="translate(179,803.5) scale(1.02,1.03)">-50</text>
<text transform="translate(179,907.5) scale(1.02,1.03)">-100</text>
<text transform="translate(179,1012.5) scale(1.02,1.03)">-150</text>
<text transform="translate(153,412) scale(1.02,1.03)">10<tspan x="1.5" y="-20.6" font-size="40px" text-anchor="start">0</tspan></text>
</g>
<g fill="#2e2e2e" font-size="53.5px" text-anchor="middle" style="stroke-width:0.5px">
<text transform="translate(0,1190.5) scale(1,1.035)" x="859.0 888.1 905.4 936.0 965.8 996.6 1026.4 1058.2 1084.6 1111.6 1128.6 1167.7 1201.2" y="0" font-size="53.5px" text-anchor="start">Frequency(Hz)</text>
<text transform="translate(77,0) rotate(-90) scale(1,1.035)" x="-500.4 -454.8 -422.4 -390.9 -360.0 -351.1 -334.2 -305.2 -275.4 -245.7 -231.7 -212.4 -197.9 -165.5 -133.9 -116.5 -78.5 -32.4" y="0" font-size="53.5px" text-anchor="start">Magnitude (rad/Nm)</text>
<text transform="translate(60,0) rotate(-90) scale(1,1.035)" x="-1070.8 -1034.7 -1006.9 -975.4 -948.9 -919.1 -902.3 -869.0 -840.1 -812.0 -801.1 -771.3 -753.4 -735.8 -705.5 -675.2 -641.2" y="0" font-size="53.5px" text-anchor="start">Phase angle (deg)</text>
</g>
</g>
</svg>
</body>
</html>
